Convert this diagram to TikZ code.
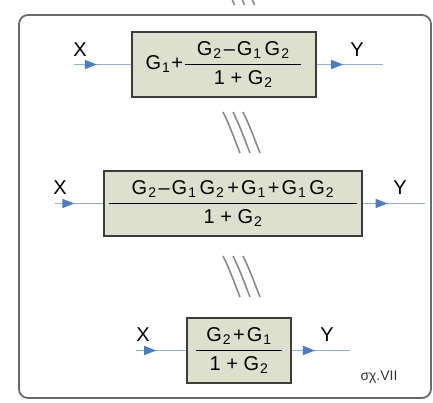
\documentclass[tikz,border=0pt]{standalone}
\usepackage{amsmath}
\usepackage{fontspec}
\setmainfont{Liberation Sans}
\usetikzlibrary{arrows.meta,decorations.markings}
\definecolor{boxfill}{HTML}{DDE0CC}
\definecolor{boxline}{HTML}{3C3C3C}
\definecolor{linblue}{HTML}{8CB0E0}
\definecolor{arrowblue}{HTML}{4A7CC8}
\definecolor{framegray}{HTML}{6A6A6A}
\definecolor{slashgray}{HTML}{8A8A8A}
\newcommand\Gx[1]{G\kern1pt\textsubscript{#1}}
\newcommand\frc[3]{$\genfrac{}{}{1.8pt}{0}{\makebox[#1]{#2}}{\makebox[#1]{#3}}$}
\begin{document}
\begin{tikzpicture}[x=1pt,y=-1pt,
  font=\fontsize{20}{22}\selectfont,
  blk/.style={draw=boxline, line width=1.3pt, fill=boxfill, inner sep=0pt, minimum height=65pt},
  sig/.style={draw=linblue, line width=1.6pt, postaction=decorate,
    decoration={markings, mark=at position 0.4 with {\arrow{Triangle[length=12pt,width=9pt,color=arrowblue]}}}},
  lbl/.style={inner sep=0pt, font=\fontsize{20}{22}\selectfont},
  slash/.style={draw=slashgray, line width=1.6pt},
  frame/.style={draw=framegray, line width=1.8pt, rounded corners=9pt}]
\useasboundingbox (0,0) rectangle (433,402);
% frame
\draw[frame] (19,15) rectangle (431,398);
% top stubs
\foreach \i in {0,1,2} {\draw[slash] (232+10*\i,-1) -- (234.5+10*\i,5);}
% block 1
\node[blk, minimum width=184pt] (b1) at (224,64.5) {\Gx1\kern1pt+\kern1pt\frc{116pt}{\Gx2\kern2pt–\kern2pt\Gx1\kern3pt\Gx2}{1 + \Gx2}};
\coordinate (x1) at (74,64.5);
\coordinate (y1) at (383,64.5);
\draw[sig] (x1) -- (b1.west);
\draw[sig] (b1.east) -- (y1);
\node[lbl] (lx1) at (80,50) {X};
\node[lbl] (ly1) at (357,50) {Y};
% slashes 1
\foreach \i in {0,1,2} {\draw[slash] (223+10*\i,112) .. controls (230+10*\i,126) and (234+10*\i,138) .. (240+10*\i,153);}
% block 2
\node[blk, minimum width=258pt] (b2) at (233,203.5) {\frc{248pt}{\Gx2\kern2pt–\kern2pt\Gx1\kern3pt\Gx2\kern3pt+\kern2pt\Gx1\kern2pt+\kern2pt\Gx1\kern3pt\Gx2}{1 + \Gx2}};
\coordinate (x2) at (55,203.5);
\coordinate (y2) at (425,203.5);
\draw[sig] (x2) -- (b2.west);
\draw[sig] (b2.east) -- (y2);
\node[lbl] (lx2) at (60,188) {X};
\node[lbl] (ly2) at (400,188) {Y};
% slashes 2
\foreach \i in {0,1,2} {\draw[slash] (223+10*\i,256) .. controls (230+10*\i,270) and (234+10*\i,282) .. (240+10*\i,297);}
% block 3
\node[blk, minimum width=104pt] (b3) at (239,350.5) {\frc{86pt}{\Gx2\kern2pt+\kern2pt\Gx1}{1 + \Gx2}};
\coordinate (x3) at (136,350.5);
\coordinate (y3) at (350,350.5);
\draw[sig] (x3) -- (b3.west);
\draw[sig] (b3.east) -- (y3);
\node[lbl] (lx3) at (143,335) {X};
\node[lbl] (ly3) at (327,335) {Y};
% caption
\node[inner sep=0pt, text=black!80, font=\fontsize{14}{16}\selectfont] (cap) at (379,377) {σχ.VII};
\end{tikzpicture}
\end{document}
